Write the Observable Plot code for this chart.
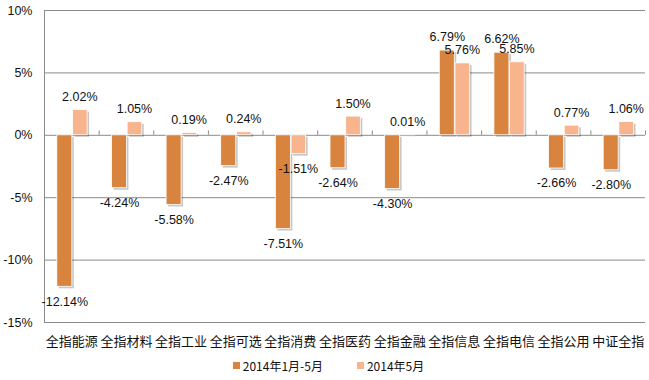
<!DOCTYPE html>
<html><head><meta charset="utf-8">
<script src="https://cdn.jsdelivr.net/npm/d3@7"></script>
<script src="https://cdn.jsdelivr.net/npm/@observablehq/plot@0.6"></script>
<style>
body{margin:0;background:#fff;}
#legend{display:flex;justify-content:center;gap:34px;font:12px "Noto Sans CJK SC","Liberation Sans",sans-serif;color:#111;margin-top:5px;padding-left:8px;}
#legend span{display:inline-flex;align-items:center;}
#legend i{display:inline-block;width:7px;height:7px;margin-right:3px;}
</style></head><body><div id="chart"></div><div id="legend"></div>
<script>
const categories = ["全指能源","全指材料","全指工业","全指可选","全指消费","全指医药","全指金融","全指信息","全指电信","全指公用","中证全指"];
const ytd = [-12.14,-4.24,-5.58,-2.47,-7.51,-2.64,-4.30,6.79,6.62,-2.66,-2.80];
const may = [2.02,1.05,0.19,0.24,-1.51,1.50,0.01,5.76,5.85,0.77,1.06];
const seriesNames = ["2014年1月-5月","2014年5月"];
const yTicks = [-15,-10,-5,0,5,10];
const colors = ["#D9843E","#F8B48D"];

const W = 649, H = 352, mL = 44, mR = 4;
const bw = (W - mL - mR) / categories.length;
const rows = categories.map((c, i) => ({c, a: ytd[i], b: may[i]}));
const fmt = v => v.toFixed(2) + "%";
const lab = {fontFamily: "'Liberation Sans', Arial, sans-serif", fontSize: 12.5, fill: "#111"};
const darkIn = {insetLeft: bw/2 - 14.5, insetRight: bw/2 - 0.5};
const lightIn = {insetLeft: bw/2 + 1.2, insetRight: bw/2 - 15.8};

const chart = Plot.plot({
  width: W, height: H, marginLeft: mL, marginRight: mR, marginTop: 10, marginBottom: 30,
  style: {fontFamily: "'Liberation Sans', Arial, sans-serif", fontSize: "12px", color: "#111", background: "#fff"},
  x: {type: "band", domain: categories, padding: 0, round: false, axis: null},
  y: {domain: [-15, 10], axis: null},
  marks: [
    Plot.ruleY(yTicks, {stroke: "#8a8a8a", strokeWidth: 1}),
    Plot.ruleX([categories[0]], {dx: -bw/2, y1: -15, y2: 10, stroke: "#8a8a8a"}),
    Plot.ruleX(categories, {dx: bw/2, y1: 0, y2: 0.35, stroke: "#8a8a8a"}),
    Plot.barY(rows, {x: "c", y: "a", ...darkIn, fill: "#000", fillOpacity: 0.22, dx: 2, dy: 2}),
    Plot.barY(rows, {x: "c", y: "b", ...lightIn, fill: "#000", fillOpacity: 0.22, dx: 2, dy: 2}),
    Plot.barY(rows, {x: "c", y: "a", ...darkIn, fill: colors[0], stroke: "#fff", strokeWidth: 0.8}),
    Plot.barY(rows, {x: "c", y: "b", ...lightIn, fill: colors[1], stroke: "#fff", strokeWidth: 0.8}),
    Plot.text(rows.filter(r => r.a < 0), {x: "c", y: "a", text: r => fmt(r.a), dx: -7, dy: 15, ...lab}),
    Plot.text(rows.filter(r => r.a >= 0), {x: "c", y: "a", text: r => fmt(r.a), dx: -7, dy: -14, ...lab}),
    Plot.text(rows.filter(r => r.b < 0), {x: "c", y: "b", text: r => fmt(r.b), dx: 8, dy: 15, ...lab}),
    Plot.text(rows.filter(r => r.b >= 0), {x: "c", y: "b", text: r => fmt(r.b), dx: 8, dy: -13, ...lab}),
    Plot.axisY(yTicks, {tickSize: 0, tickPadding: 12, tickFormat: d => d + "%", fontSize: 12.5, label: null, fill: "#111"}),
    Plot.axisX({tickSize: 0, tickPadding: 14, fontSize: 13, fontFamily: "'Noto Sans CJK SC', sans-serif", label: null, fill: "#111"})
  ]
});
document.getElementById("chart").appendChild(chart);
document.getElementById("legend").innerHTML = seriesNames.map((s, i) =>
  `<span><i style="background:${colors[i]}"></i>${s}</span>`).join("");
</script></body></html>
